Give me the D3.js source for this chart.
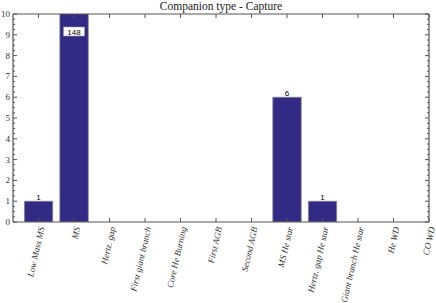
<!DOCTYPE html>
<html>
<head>
<meta charset="utf-8">
<script src="https://cdn.jsdelivr.net/npm/d3@7"></script>
<style>
  body { margin: 0; background: #fff; }
  svg { display: block; }
  .serif { font-family: "Liberation Serif", "DejaVu Serif", serif; }
</style>
</head>
<body>
<div id="chart"></div>
<script>
// chart data
const categories = ["Low Mass MS", "MS", "Hertz. gap", "First giant branch", "Core He Burning",
  "First AGB", "Second AGB", "MS He star", "Hertz. gap He star", "Giant branch He star", "He WD", "CO WD"];
const counts = [1, 148, 0, 0, 0, 0, 0, 6, 1, 0, 0, 0];
const yTicks = [0, 1, 2, 3, 4, 5, 6, 7, 8, 9, 10];
const titleText = "Companion type - Capture";

const width = 436, height = 303;
const plotL = 13, plotR = 429, plotT = 14, plotB = 222;
const axisColor = "#555";

const svg = d3.select("#chart").append("svg")
    .attr("width", width)
    .attr("height", height);

const x = d3.scaleLinear().domain([0.28, 12]).range([plotL, plotR]);
const y = d3.scaleLinear().domain([0, 10]).range([plotB, plotT]);
const barW = (x(1) - x(0)) * 0.8;

// bars, clipped to plot area
svg.append("clipPath").attr("id", "plot")
  .append("rect").attr("x", plotL).attr("y", plotT).attr("width", plotR - plotL).attr("height", plotB - plotT);

const bars = svg.append("g").attr("clip-path", "url(#plot)");
bars.selectAll("rect")
  .data(counts.map((v, i) => ({ v, i })).filter(d => d.v > 0))
  .join("rect")
    .attr("x", d => x(d.i + 1) - barW / 2)
    .attr("width", barW)
    .attr("y", d => y(Math.min(d.v, 10.5)))
    .attr("height", d => y(0) - y(Math.min(d.v, 10.5)))
    .attr("fill", "#332a86")
    .attr("stroke", "#8a8a8a")
    .attr("stroke-width", 0.8);

// value labels
counts.forEach((v, i) => {
  if (v <= 0) return;
  const cx = x(i + 1);
  if (v > 10) {
    svg.append("rect")
      .attr("x", cx - 10.5).attr("y", 27).attr("width", 21).attr("height", 9)
      .attr("fill", "#fff").attr("stroke", "#999").attr("stroke-width", 0.6);
    svg.append("text").attr("x", cx).attr("y", 34.5)
      .attr("text-anchor", "middle").attr("font-family", "'Liberation Sans', sans-serif")
      .attr("font-size", 8).attr("fill", "#000").text(v);
  } else {
    svg.append("text").attr("x", cx).attr("y", y(v) - 1.5)
      .attr("text-anchor", "middle").attr("font-family", "'Liberation Sans', sans-serif")
      .attr("font-size", 8).attr("fill", "#000").text(v);
  }
});

// axes box
const axes = svg.append("g").attr("stroke", axisColor).attr("fill", "none");
axes.append("line").attr("x1", plotL).attr("x2", plotR).attr("y1", plotB).attr("y2", plotB).attr("stroke-width", 1.2);
axes.append("line").attr("x1", plotL).attr("x2", plotR).attr("y1", plotT).attr("y2", plotT).attr("stroke-width", 1.2);
axes.append("line").attr("x1", plotL).attr("x2", plotL).attr("y1", plotT).attr("y2", plotB).attr("stroke-width", 1.2);
axes.append("line").attr("x1", plotR).attr("x2", plotR).attr("y1", plotT).attr("y2", plotB).attr("stroke-width", 1.2);

// x ticks (bottom and top)
categories.forEach((c, i) => {
  const tx = x(i + 1);
  axes.append("line").attr("x1", tx).attr("x2", tx).attr("y1", plotB).attr("y2", plotB - 4);
  axes.append("line").attr("x1", tx).attr("x2", tx).attr("y1", plotT).attr("y2", plotT + 4);
});

// y ticks (major + minor, left and right)
const minor = d3.range(0, 10.001, 0.25);
minor.forEach(v => {
  const isMajor = Math.abs(v - Math.round(v)) < 1e-6;
  const len = isMajor ? 4 : 2;
  axes.append("line").attr("x1", plotL).attr("x2", plotL + len).attr("y1", y(v)).attr("y2", y(v));
  axes.append("line").attr("x1", plotR).attr("x2", plotR - len).attr("y1", y(v)).attr("y2", y(v));
});

// y tick labels
svg.append("g").selectAll("text")
  .data(yTicks)
  .join("text")
    .attr("class", "serif")
    .attr("x", plotL - 3)
    .attr("y", d => y(d) + 3)
    .attr("text-anchor", "end")
    .attr("font-size", 9)
    .attr("fill", "#333")
    .text(d => d);

// x tick labels, rotated
svg.append("g").selectAll("text")
  .data(categories)
  .join("text")
    .attr("class", "serif")
    .attr("transform", (d, i) => `translate(${x(i + 1) + 3},${plotB + 5}) rotate(-77)`)
    .attr("text-anchor", "end")
    .attr("dy", "0.35em")
    .attr("font-style", "italic")
    .attr("font-size", 9)
    .attr("fill", "#333")
    .text(d => d);

// title
svg.append("text")
  .attr("class", "serif")
  .attr("x", (plotL + plotR) / 2)
  .attr("y", 10)
  .attr("text-anchor", "middle")
  .attr("font-size", 11.5)
  .attr("fill", "#222")
  .text(titleText);
</script>
</body>
</html>
